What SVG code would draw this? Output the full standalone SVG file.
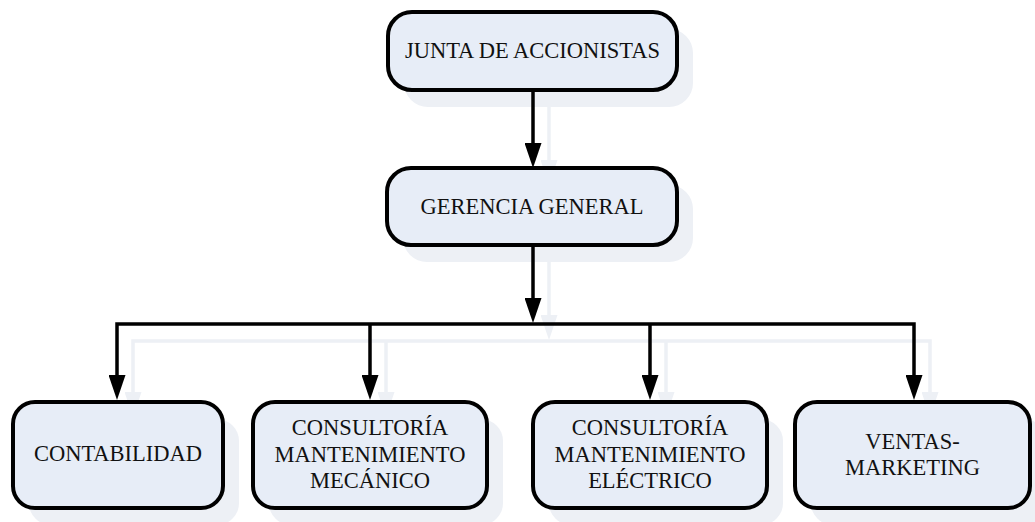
<svg xmlns="http://www.w3.org/2000/svg" width="1035" height="522" viewBox="0 0 1035 522">
<style>
.box{fill:#e7edf7;stroke:#000;stroke-width:4}
.shadow{fill:#edf0f5;stroke:none}
.conn{fill:none;stroke:#000;stroke-width:3.5}
.sconn{fill:none;stroke:#edf0f5;stroke-width:3.5}
text{font-family:"Liberation Serif","Times New Roman",serif;font-size:22.5px;fill:#111;text-anchor:middle}
</style>
<defs>
<marker id="ah" markerWidth="25" markerHeight="17" refX="0" refY="8.5" orient="auto-start-reverse" markerUnits="userSpaceOnUse" viewBox="0 0 25 17"><path d="M0,0 L25,8.5 L0,17 z" fill="#000"/></marker>
<marker id="sah" markerWidth="25" markerHeight="17" refX="0" refY="8.5" orient="auto-start-reverse" markerUnits="userSpaceOnUse" viewBox="0 0 25 17"><path d="M0,0 L25,8.5 L0,17 z" fill="#edf0f5"/></marker>
</defs>
<rect width="1035" height="522" fill="#fff"/>
<g id="connector-shadows" transform="translate(16,17)">
<path class="sconn" d="M533,90 V143" marker-end="url(#sah)"/>
<path class="sconn" d="M533,245 V298" marker-end="url(#sah)"/>
<path class="sconn" d="M117,375 V324 H914 V375" marker-start="url(#sah)" marker-end="url(#sah)"/>
<path class="sconn" d="M370,324 V375" marker-end="url(#sah)"/>
<path class="sconn" d="M650,324 V375" marker-end="url(#sah)"/>
</g>
<g id="box-shadows">
<rect class="shadow" x="404" y="29" width="289" height="78" rx="24"/>
<rect class="shadow" x="403" y="185" width="290" height="77" rx="24"/>
<rect class="shadow" x="29" y="419" width="210" height="106" rx="22"/>
<rect class="shadow" x="269" y="419" width="234" height="106" rx="22"/>
<rect class="shadow" x="549" y="419" width="234" height="106" rx="22"/>
<rect class="shadow" x="811" y="419" width="235" height="106" rx="22"/>
</g>
<g id="connectors">
<path class="conn" d="M533,90 V143" marker-end="url(#ah)"/>
<path class="conn" d="M533,245 V298" marker-end="url(#ah)"/>
<path class="conn" d="M117,375 V324 H914 V375" marker-start="url(#ah)" marker-end="url(#ah)"/>
<path class="conn" d="M370,324 V375" marker-end="url(#ah)"/>
<path class="conn" d="M650,324 V375" marker-end="url(#ah)"/>
</g>
<g id="junta">
<rect class="box" x="388" y="12" width="289" height="78" rx="24"/>
<text x="532.5" y="58">JUNTA DE ACCIONISTAS</text>
</g>
<g id="gerencia">
<rect class="box" x="387" y="168" width="290" height="77" rx="24"/>
<text x="532" y="214">GERENCIA GENERAL</text>
</g>
<g id="contabilidad">
<rect class="box" x="13" y="402" width="210" height="106" rx="22"/>
<text x="118" y="461">CONTABILIDAD</text>
</g>
<g id="mecanico">
<rect class="box" x="253" y="402" width="234" height="106" rx="22"/>
<text x="370" y="435">CONSULTORÍA</text>
<text x="370" y="462">MANTENIMIENTO</text>
<text x="370" y="488">MECÁNICO</text>
</g>
<g id="electrico">
<rect class="box" x="533" y="402" width="234" height="106" rx="22"/>
<text x="650" y="435">CONSULTORÍA</text>
<text x="650" y="462">MANTENIMIENTO</text>
<text x="650" y="488">ELÉCTRICO</text>
</g>
<g id="ventas">
<rect class="box" x="795" y="402" width="235" height="106" rx="22"/>
<text x="912.5" y="449">VENTAS-</text>
<text x="912.5" y="475">MARKETING</text>
</g>
</svg>
